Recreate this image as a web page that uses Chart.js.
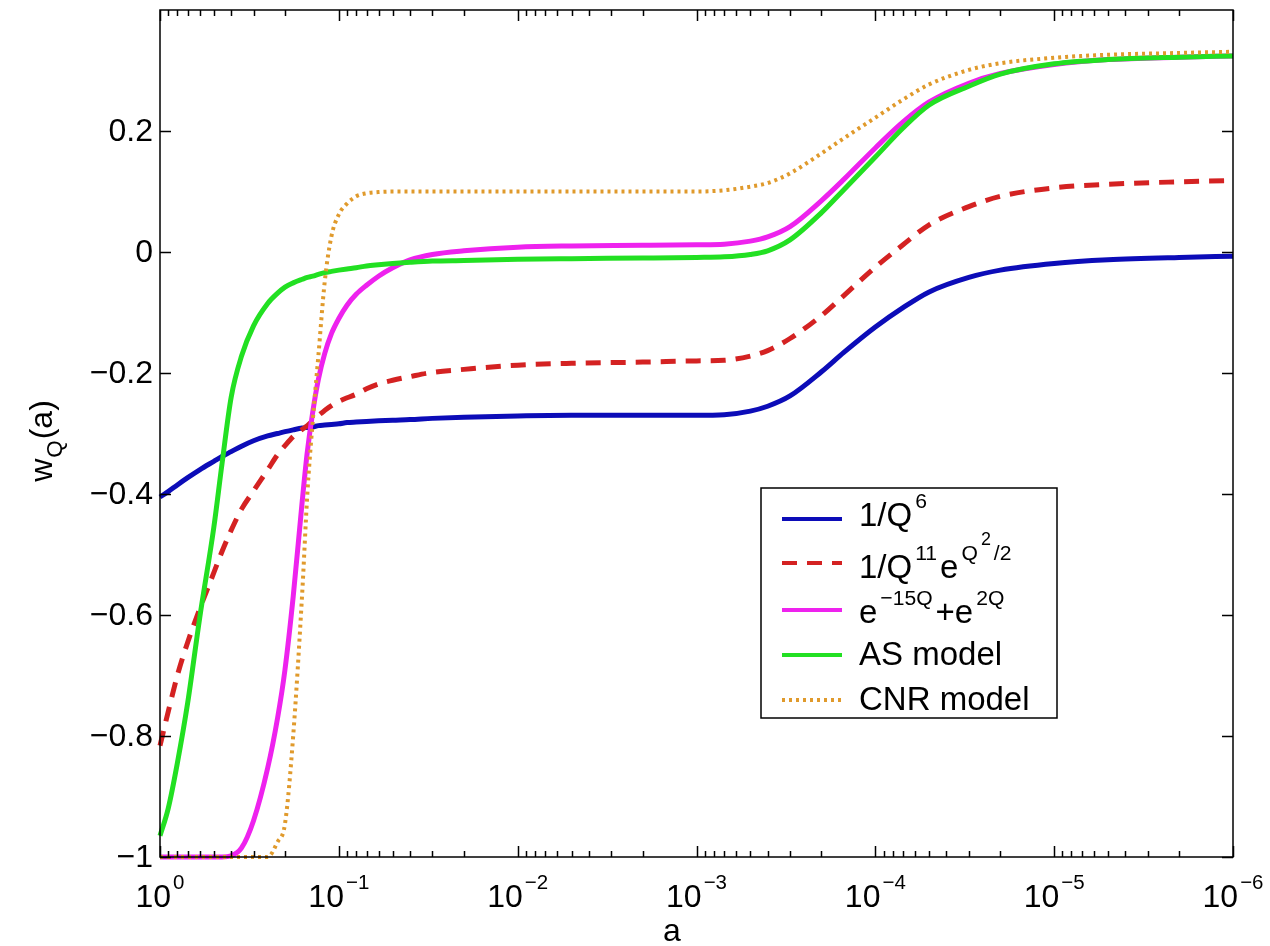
<!DOCTYPE html>
<html>
<head>
  <title>w_Q(a) models</title>
  <meta charset="utf-8">
  <style>
    body { margin: 0; background: #fff; }
    canvas { display: block; }
  </style>
</head>
<body>
  <canvas id="myChart" width="1270" height="946"></canvas>
  <script src="https://cdn.jsdelivr.net/npm/chart.js"></script>
  <script>
    // scale factor a (x axis, log, reversed)
    var aValues = [1, 0.9, 0.8, 0.7, 0.6, 0.5, 0.45, 0.4, 0.35, 0.3, 0.25, 0.22, 0.2, 0.18, 0.16, 0.15,
      0.14, 0.13, 0.12, 0.11, 0.1, 0.09, 0.08, 0.07, 0.06, 0.05, 0.04, 0.03, 0.02, 0.01, 5e-3, 2e-3,
      1e-3, 7e-4, 5e-4, 4e-4, 3e-4, 2e-4, 1.5e-4, 1e-4, 7e-5, 5e-5, 3e-5, 2e-5, 1e-5, 5e-6, 2e-6, 1e-6];

    var wQ6 = [-0.405, -0.396, -0.385, -0.373, -0.360, -0.346, -0.338, -0.330, -0.321, -0.312, -0.304, -0.300,
      -0.297, -0.294, -0.291, -0.290, -0.289, -0.287, -0.286, -0.285, -0.284, -0.282, -0.281, -0.280, -0.279,
      -0.278, -0.277, -0.275, -0.273, -0.271, -0.270, -0.270, -0.270, -0.269, -0.263, -0.255, -0.238, -0.198,
      -0.166, -0.124, -0.092, -0.066, -0.042, -0.030, -0.019, -0.013, -0.009, -0.007];

    var wQ11 = [-0.816, -0.760, -0.700, -0.645, -0.590, -0.530, -0.495, -0.460, -0.425, -0.395, -0.360, -0.335,
      -0.320, -0.305, -0.293, -0.287, -0.279, -0.270, -0.262, -0.254, -0.247, -0.241, -0.235, -0.226, -0.218,
      -0.212, -0.206, -0.199, -0.194, -0.187, -0.184, -0.182, -0.180, -0.179, -0.172, -0.163, -0.143, -0.105,
      -0.072, -0.025, 0.012, 0.045, 0.075, 0.092, 0.106, 0.112, 0.116, 0.118];

    var wExp = [-1, -1, -1, -1, -1, -1, -1, -0.998, -0.985, -0.94, -0.853, -0.77,
      -0.69, -0.57, -0.41, -0.33, -0.265, -0.21, -0.168, -0.135, -0.11, -0.088, -0.07, -0.055, -0.04,
      -0.026, -0.013, -0.004, 0.002, 0.008, 0.010, 0.011, 0.012, 0.013, 0.018, 0.025, 0.042, 0.085,
      0.12, 0.172, 0.215, 0.248, 0.279, 0.295, 0.31, 0.318, 0.322, 0.324];

    var wAS = [-0.965, -0.92, -0.845, -0.745, -0.605, -0.455, -0.35, -0.24, -0.172, -0.122, -0.085, -0.068,
      -0.058, -0.051, -0.045, -0.042, -0.040, -0.037, -0.034, -0.032, -0.030, -0.028, -0.026, -0.023, -0.021,
      -0.019, -0.017, -0.015, -0.014, -0.012, -0.011, -0.010, -0.009, -0.008, -0.004, 0.002, 0.020, 0.065,
      0.103, 0.157, 0.205, 0.243, 0.274, 0.294, 0.311, 0.318, 0.322, 0.324];

    var wCNR = [-1, -1, -1, -1, -1, -1, -1, -1, -1, -1, -1, -0.975,
      -0.945, -0.80, -0.56, -0.40, -0.28, -0.17, -0.05, 0.026, 0.062, 0.08, 0.092, 0.097, 0.099,
      0.100, 0.100, 0.100, 0.100, 0.100, 0.100, 0.100, 0.100, 0.102, 0.108, 0.114, 0.130, 0.163,
      0.188, 0.222, 0.252, 0.277, 0.301, 0.312, 0.321, 0.326, 0.329, 0.331];

    var seriesLabels = ['1/Q^{6}', '1/Q^{11}e^{Q^{2}/2}', 'e^{\u221215Q}+e^{2Q}', 'AS model', 'CNR model'];
    var seriesValues = [wQ6, wQ11, wExp, wAS, wCNR];
    var seriesColors = ['#0c0cb8', '#d42222', '#ee22ee', '#22e022', '#e09a2c'];
    var seriesDash = [[], [15, 10], [], [], [3, 4]];
    var seriesWidth = [5, 5, 5, 5, 4];
    var seriesOrder = [5, 4, 3, 2, 1];

    var yTicks = [-1, -0.8, -0.6, -0.4, -0.2, 0, 0.2];
    var yTickLabels = ['\u22121', '\u22120.8', '\u22120.6', '\u22120.4', '\u22120.2', '0', '0.2'];
    var xTicks = [1, 1e-1, 1e-2, 1e-3, 1e-4, 1e-5, 1e-6];
    var xTickLabels = ['10^{0}', '10^{\u22121}', '10^{\u22122}', '10^{\u22123}', '10^{\u22124}', '10^{\u22125}', '10^{\u22126}'];

    var FONT = '"Liberation Sans", Arial, Helvetica, sans-serif';

    // split "x^{..}" / "x_{..}" markup into runs with size and vertical shift
    function parseRich(s, size) {
      var out = [], stack = [], cur = { size: size, dy: 0, lvl: 0 }, buf = '';
      for (var i = 0; i < s.length; i++) {
        var ch = s[i];
        if ((ch === '^' || ch === '_') && s[i + 1] === '{') {
          if (buf) { out.push({ t: buf, size: cur.size, dy: cur.dy }); buf = ''; }
          stack.push(cur);
          if (ch === '^') {
            var top = cur.lvl === 0;
            cur = {
              size: cur.size * (top ? 0.64 : 0.85),
              dy: cur.dy - cur.size * (top ? 0.56 : 0.7),
              lvl: cur.lvl + 1
            };
          } else {
            cur = { size: cur.size * 0.7, dy: cur.dy + cur.size * 0.3, lvl: cur.lvl + 1 };
          }
          i++;
        } else if (ch === '}' && stack.length) {
          if (buf) { out.push({ t: buf, size: cur.size, dy: cur.dy }); buf = ''; }
          cur = stack.pop();
        } else {
          buf += ch;
        }
      }
      if (buf) out.push({ t: buf, size: cur.size, dy: cur.dy });
      return out;
    }

    function runWidth(ctx, runs, gap) {
      var w = 0;
      runs.forEach(function (r, i) {
        ctx.font = r.size + 'px ' + FONT;
        w += ctx.measureText(r.t).width + (i > 0 ? gap : 0);
      });
      return w;
    }

    function drawRich(ctx, s, size, x, y, align, gap) {
      gap = gap || 0;
      var runs = parseRich(s, size);
      var w = runWidth(ctx, runs, gap);
      if (align === 'center') x -= w / 2;
      if (align === 'right') x -= w;
      ctx.textAlign = 'left';
      ctx.textBaseline = 'alphabetic';
      runs.forEach(function (r, i) {
        if (i > 0) x += gap;
        ctx.font = r.size + 'px ' + FONT;
        ctx.fillText(r.t, x, y + r.dy);
        x += ctx.measureText(r.t).width;
      });
    }

    var axesPlugin = {
      id: 'matlabAxes',
      afterDraw: function (chart) {
        var ctx = chart.ctx, area = chart.chartArea;
        var xs = chart.scales.x, ys = chart.scales.y;
        ctx.save();
        ctx.strokeStyle = '#000';
        ctx.fillStyle = '#000';
        ctx.lineWidth = 1.5;
        ctx.strokeRect(area.left, area.top, area.right - area.left, area.bottom - area.top);

        // y ticks, inward on both sides
        ctx.beginPath();
        yTicks.forEach(function (v) {
          var py = Math.round(ys.getPixelForValue(v)) + 0.5;
          ctx.moveTo(area.left, py); ctx.lineTo(area.left + 11, py);
          ctx.moveTo(area.right, py); ctx.lineTo(area.right - 11, py);
        });
        // x ticks, decades and minors
        xTicks.forEach(function (v, i) {
          var px = Math.round(xs.getPixelForValue(v)) + 0.5;
          ctx.moveTo(px, area.bottom); ctx.lineTo(px, area.bottom - 11);
          ctx.moveTo(px, area.top); ctx.lineTo(px, area.top + 11);
          if (i < xTicks.length - 1) {
            for (var m = 2; m <= 9; m++) {
              var mx = Math.round(xs.getPixelForValue(v * m / 10)) + 0.5;
              ctx.moveTo(mx, area.bottom); ctx.lineTo(mx, area.bottom - 6);
              ctx.moveTo(mx, area.top); ctx.lineTo(mx, area.top + 6);
            }
          }
        });
        ctx.stroke();

        // tick labels
        ctx.font = '32px ' + FONT;
        ctx.textAlign = 'right';
        ctx.textBaseline = 'middle';
        yTicks.forEach(function (v, i) {
          ctx.fillText(yTickLabels[i], area.left - 7, ys.getPixelForValue(v) + 1);
        });
        xTicks.forEach(function (v, i) {
          drawRich(ctx, xTickLabels[i], 32, xs.getPixelForValue(v), area.bottom + 50, 'center', 2);
        });

        // axis titles
        drawRich(ctx, 'a', 32, 672, 941, 'center');
        ctx.save();
        ctx.translate(52, 441);
        ctx.rotate(-Math.PI / 2);
        drawRich(ctx, 'w_{Q}(a)', 32, 0, 0, 'center', 1);
        ctx.restore();

        // legend box
        var lx = 761, ly = 488, lw = 296, lh = 230;
        ctx.fillStyle = '#fff';
        ctx.fillRect(lx, ly, lw, lh);
        ctx.lineWidth = 1.5;
        ctx.strokeStyle = '#000';
        ctx.strokeRect(lx, ly, lw, lh);
        var rows = [519, 563, 610, 655, 700];
        var baseOff = [7, 15, 13, 10, 10];
        chart.data.datasets.forEach(function (ds, i) {
          ctx.save();
          ctx.strokeStyle = ds.borderColor;
          ctx.lineWidth = 4;
          ctx.setLineDash(ds.borderDash);
          ctx.beginPath();
          ctx.moveTo(782, rows[i]);
          ctx.lineTo(842, rows[i]);
          ctx.stroke();
          ctx.restore();
          ctx.fillStyle = '#000';
          drawRich(ctx, seriesLabels[i], 33, 859, rows[i] + baseOff[i], 'left', 3);
        });
        ctx.restore();
      }
    };

    var datasets = seriesValues.map(function (vals, i) {
      return {
        label: seriesLabels[i],
        data: aValues.map(function (a, j) { return { x: a, y: vals[j] }; }),
        borderColor: seriesColors[i],
        borderWidth: seriesWidth[i],
        borderDash: seriesDash[i],
        pointRadius: 0,
        fill: false,
        cubicInterpolationMode: 'monotone',
        order: seriesOrder[i],
        clip: 5
      };
    });

    var chart = new Chart(document.getElementById('myChart'), {
      type: 'line',
      data: { datasets: datasets },
      options: {
        responsive: false,
        animation: false,
        events: [],
        layout: { padding: { left: 160, right: 37, top: 10, bottom: 89 } },
        scales: {
          x: { type: 'logarithmic', reverse: true, min: 1e-6, max: 1, display: false },
          y: { type: 'linear', min: -1, max: 0.4, display: false }
        },
        plugins: { legend: { display: false }, tooltip: { enabled: false } }
      },
      plugins: [axesPlugin]
    });
  </script>
</body>
</html>
